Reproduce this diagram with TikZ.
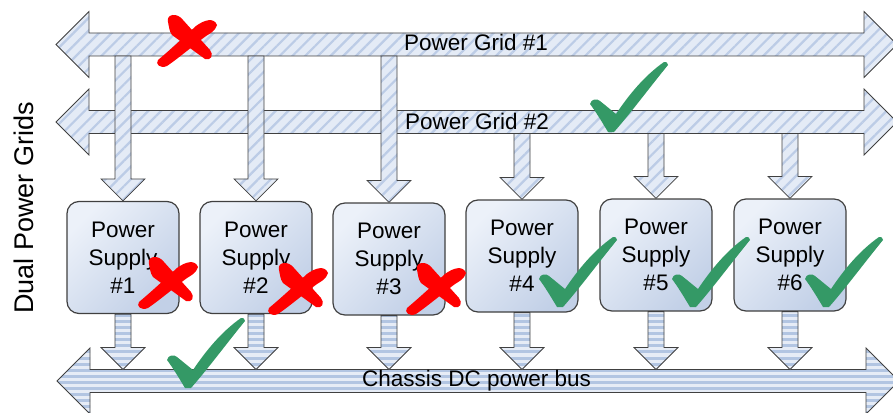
\documentclass[tikz,border=0pt]{standalone}
\usepackage{fontspec}
\setmainfont{Liberation Sans}
\usepackage{tikz}
\usetikzlibrary{calc,patterns.meta}
\definecolor{edgegray}   {RGB}{ 64, 64, 64}
\definecolor{gridfill}   {RGB}{228,235,246}
\definecolor{gridstripe} {RGB}{188,204,230}
\definecolor{busfill}    {RGB}{230,236,246}
\definecolor{busstripe}  {RGB}{178,197,226}
\definecolor{boxlight}   {RGB}{236,241,249}
\definecolor{boxdark}    {RGB}{194,208,231}
\definecolor{markred}    {RGB}{255,  0,  0}
\definecolor{markgreen}  {RGB}{ 52,153,102}
\tikzset{
  gridarrow/.style={draw=edgegray,line width=0.8pt,preaction={fill=gridfill},
                    pattern={Lines[angle=45,distance=9pt,line width=2.2pt]},
                    pattern color=gridstripe},
  busarrow/.style={draw=edgegray,line width=0.8pt,preaction={fill=busfill},
                   pattern={Lines[angle=0,distance=6pt,line width=3pt]},
                   pattern color=busstripe},
  psbox/.style={draw=edgegray,line width=1.2pt,rounded corners=12pt,
                minimum width=112pt,minimum height=112pt,inner sep=0pt,
                shading=axis,top color=boxlight,bottom color=boxdark,
                shading angle=45,align=center,
                font=\fontsize{22.5}{28}\selectfont},
  lbl/.style={font=\fontsize{22.5}{27}\selectfont,anchor=base,inner sep=0pt},
  crossmark/.pic={
    \fill[markred] (-16,-20) .. controls (-18,-28) and (-7,-30) .. (-1,-22)
      -- (26,8) .. controls (30,13) and (27,19) .. (21,17)
      -- (-12,-7) .. controls (-15,-11) and (-15,-16) .. (-16,-20) -- cycle;
    \fill[markred] (33,-17) .. controls (30,-25) and (20,-22) .. (12,-16)
      .. controls (0,-5) and (-14,8) .. (-26,18)
      .. controls (-29,22) and (-24,27) .. (-17,24)
      .. controls (-4,15) and (10,3) .. (22,-6)
      .. controls (27,-9) and (31,-11) .. (33,-17) -- cycle;
  },
  tickmark/.pic={
    \fill[markgreen] (0,0) .. controls (-6,-10) and (-12,-20) .. (-18,-28)
      .. controls (-17,-33) and (-11,-34) .. (-8,-31)
      .. controls (-3,-27) and (3,-22) .. (8,-18)
      .. controls (20,-36) and (36,-56) .. (56,-70)
      .. controls (58,-71) and (60,-69) .. (60,-67)
      .. controls (42,-45) and (22,-18) .. (6,0) -- cycle;
  },
}
% horizontal double block arrow: style, y centre, left tip, right tip
\newcommand{\blockbar}[4]{%
  \path[#1] (#3,#2) -- (#3+33,#2-33) -- (#3+33,#2-11.5) -- (#4-33,#2-11.5)
    -- (#4-33,#2-33) -- (#4,#2) -- (#4-33,#2+33) -- (#4-33,#2+11.5)
    -- (#3+33,#2+11.5) -- (#3+33,#2+33) -- cycle;}
% downward block arrow: style, start of shaft, tip
\newcommand{\blockdown}[3]{%
  \path[#1] let \p1=#2, \p2=#3 in
    (\x2-8pt,\y1) -- (\x2+8pt,\y1) -- (\x2+8pt,\y2+22pt) -- (\x2+22pt,\y2+22pt)
    -- (\x2,\y2) -- (\x2-22pt,\y2+22pt) -- (\x2-8pt,\y2+22pt) -- cycle;}

\begin{document}
\begin{tikzpicture}[x=1pt,y=-1pt]
\useasboundingbox (0,0) rectangle (893,412);
\coordinate (g1edge) at (0,56);
\coordinate (g2edge) at (0,133.5);
\coordinate (busedge) at (0,369.5);

\blockbar{gridarrow}{44.5}{56}{897}
\blockbar{gridarrow}{122}{56}{897}

\node[psbox] (ps1) at (123,257.5) {Power\\Supply\\\#1};
\node[psbox] (ps2) at (256,257.5) {Power\\Supply\\\#2};
\node[psbox] (ps3) at (389,259) {Power\\Supply\\\#3};
\node[psbox] (ps4) at (522,256) {Power\\Supply\\\#4};
\node[psbox] (ps5) at (656,255) {Power\\Supply\\\#5};
\node[psbox] (ps6) at (790,255) {Power\\Supply\\\#6};

\blockdown{gridarrow}{(ps1.north |- g1edge)}{(ps1.north)}
\blockdown{gridarrow}{(ps2.north |- g1edge)}{(ps2.north)}
\blockdown{gridarrow}{(ps3.north |- g1edge)}{(ps3.north)}
\blockdown{gridarrow}{(ps4.north |- g2edge)}{(ps4.north)}
\blockdown{gridarrow}{(ps5.north |- g2edge)}{(ps5.north)}
\blockdown{gridarrow}{(ps6.north |- g2edge)}{(ps6.north)}

\blockbar{busarrow}{381}{57}{899}
\blockdown{busarrow}{(ps1.south)}{(ps1.south |- busedge)}
\blockdown{busarrow}{(ps2.south)}{(ps2.south |- busedge)}
\blockdown{busarrow}{(ps3.south)}{(ps3.south |- busedge)}
\blockdown{busarrow}{(ps4.south)}{(ps4.south |- busedge)}
\blockdown{busarrow}{(ps5.south)}{(ps5.south |- busedge)}
\blockdown{busarrow}{(ps6.south)}{(ps6.south |- busedge)}

\node[lbl] (grid1) at (476,51) {Power Grid \#1};
\node[lbl] (grid2) at (477,129) {Power Grid \#2};
\node[lbl] (bus) at (476.5,386) {Chassis DC power bus};
\node[lbl,rotate=90,font=\fontsize{27}{32}\selectfont] (dual) at (33,208)
  {Dual Power Grids};

\pic at (184,42) {crossmark};
\pic at (165,284) {crossmark};
\pic at (295,290) {crossmark};
\pic at (433,290) {crossmark};
\pic at (608,132) {tickmark};
\pic at (557,307) {tickmark};
\pic at (690,307) {tickmark};
\pic at (823,307) {tickmark};
\pic at (185,388) {tickmark};
\end{tikzpicture}
\end{document}
